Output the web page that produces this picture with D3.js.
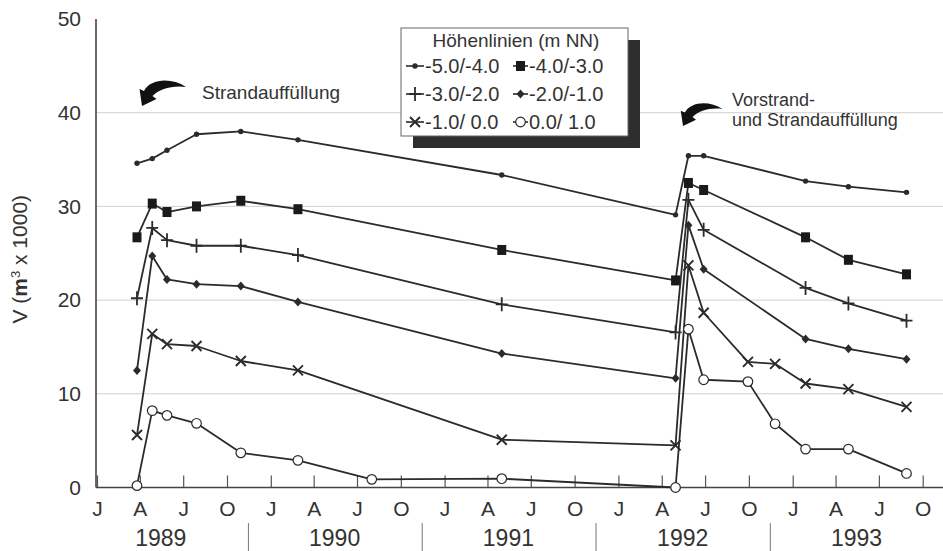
<!DOCTYPE html>
<html>
<head>
<meta charset="utf-8">
<script src="https://cdn.jsdelivr.net/npm/d3@7"></script>
<style>
  html, body { margin: 0; padding: 0; background: #fff; }
  svg { display: block; font-family: "Liberation Sans", Arial, Helvetica, sans-serif; }
</style>
</head>
<body>
<svg id="chart" width="943" height="551"></svg>
<script>
// ---------- data ----------
const dates = ["1989-03-26","1989-04-27","1989-05-28","1989-07-29","1989-10-30","1990-02-27",
               "1990-08-01","1991-05-01","1992-04-30","1992-05-27","1992-06-28","1992-09-29",
               "1992-11-25","1993-01-28","1993-04-28","1993-08-28"];
const s1 = [34.6, 35.1, 36.0, 37.7, 38.0, 37.1, null, 33.35, 29.1, 35.4, 35.4, null, null, 32.7, 32.1, 31.5];
const s2 = [26.7, 30.3, 29.4, 30.0, 30.6, 29.7, null, 25.35, 22.1, 32.5, 31.75, null, null, 26.7, 24.3, 22.75];
const s3 = [20.2, 27.7, 26.4, 25.8, 25.8, 24.8, null, 19.55, 16.55, 30.7, 27.5, null, null, 21.3, 19.65, 17.8];
const s4 = [12.5, 24.7, 22.2, 21.7, 21.5, 19.8, null, 14.3, 11.65, 28.0, 23.3, null, null, 15.85, 14.8, 13.7];
const s5 = [5.6, 16.4, 15.3, 15.1, 13.5, 12.5, null, 5.1, 4.5, 23.7, 18.65, 13.4, 13.2, 11.1, 10.5, 8.6];
const s6 = [0.2, 8.2, 7.7, 6.85, 3.7, 2.9, 0.87, 0.94, 0.0, 16.9, 11.5, 11.3, 6.8, 4.1, 4.1, 1.5];
const seriesNames = ["-5.0/-4.0", "-4.0/-3.0", "-3.0/-2.0", "-2.0/-1.0", "-1.0/ 0.0", "0.0/ 1.0"];
const seriesMarkers = ["dot", "square", "plus", "diamond", "cross", "circle"];
const yTicks = [0, 10, 20, 30, 40, 50];
const monthLabels = ["J", "A", "J", "O"];
const years = [1989, 1990, 1991, 1992, 1993];
const legendTitle = "Höhenlinien (m NN)";
const note1 = ["Strandauffüllung"];
const note2 = ["Vorstrand-", "und Strandauffüllung"];

// ---------- setup ----------
const parse = d3.timeParse("%Y-%m-%d");
const svg = d3.select("#chart");
const ink = "#2b2b2b";
const txt = "#333";

const x = d3.scaleTime()
  .domain([new Date(1989, 0, 1), new Date(1993, 9, 1)])
  .range([97, 922.7]);
const y = d3.scaleLinear().domain([0, 50]).range([487.5, 19]);

// gridlines
svg.append("g").selectAll("line")
  .data(yTicks.filter(v => v > 0 && v < 50))
  .join("line")
  .attr("x1", 96).attr("x2", 943)
  .attr("y1", d => y(d)).attr("y2", d => y(d))
  .attr("stroke", "#cfcfcf").attr("stroke-width", 1);

// y axis
const yAxis = svg.append("g").attr("transform", "translate(96,0)")
  .call(d3.axisLeft(y).tickValues(yTicks).tickSize(0).tickPadding(15).tickFormat(d3.format("d")));
yAxis.select(".domain").remove();
yAxis.selectAll("text").attr("font-size", 21).attr("fill", txt)
  .attr("font-family", "Liberation Sans, Arial, sans-serif");
svg.append("line").attr("x1", 96).attr("x2", 96).attr("y1", y(50)).attr("y2", y(0))
  .attr("stroke", "#444").attr("stroke-width", 1.6);

// y title
const yt = svg.append("text")
  .attr("transform", `translate(27,${(y(0) + y(50)) / 2 + 6}) rotate(-90)`)
  .attr("text-anchor", "middle").attr("font-size", 21).attr("fill", txt);
yt.append("tspan").text("V (");
yt.append("tspan").attr("font-weight", "bold").text("m");
yt.append("tspan").attr("font-size", 13).attr("dy", -7).text("3");
yt.append("tspan").attr("dy", 7).text(" x 1000)");

// x axis
const quarterTicks = d3.timeMonth.every(3).range(new Date(1989, 0, 1), new Date(1993, 9, 2));
const xAxis = svg.append("g").attr("transform", `translate(0,${y(0)})`)
  .call(d3.axisBottom(x).tickValues(quarterTicks).tickSizeInner(-12).tickSizeOuter(0)
    .tickFormat(d => monthLabels[Math.floor(d.getMonth() / 3)]));
xAxis.select(".domain").remove();
xAxis.selectAll(".tick line").attr("stroke", "#555").attr("stroke-width", 1.2);
xAxis.selectAll(".tick text").attr("y", 28.5).attr("dy", 0).attr("font-size", 21)
  .attr("fill", txt).attr("font-family", "Liberation Sans, Arial, sans-serif");
svg.append("line").attr("x1", 96).attr("x2", 943).attr("y1", y(0)).attr("y2", y(0))
  .attr("stroke", "#444").attr("stroke-width", 1.6);

// years
svg.append("g").selectAll("text").data(years).join("text")
  .attr("x", d => x(new Date(d, 4, 15))).attr("y", 546)
  .attr("text-anchor", "middle").attr("font-size", 23).attr("fill", txt)
  .text(d => d);
svg.append("g").selectAll("line").data(years.slice(0, -1)).join("line")
  .attr("x1", d => x(new Date(d, 10, 15))).attr("x2", d => x(new Date(d, 10, 15)))
  .attr("y1", 523).attr("y2", 551).attr("stroke", "#777").attr("stroke-width", 1);

// ---------- markers ----------
function drawMarker(g, type, cx, cy) {
  if (type === "dot") {
    g.append("circle").attr("cx", cx).attr("cy", cy).attr("r", 2.7).attr("fill", ink);
  } else if (type === "square") {
    g.append("rect").attr("x", cx - 4.5).attr("y", cy - 5).attr("width", 9).attr("height", 10).attr("fill", "#1a1a1a");
  } else if (type === "plus") {
    g.append("path").attr("d", `M${cx - 6},${cy}H${cx + 6}M${cx},${cy - 7}V${cy + 7}`)
      .attr("stroke", ink).attr("stroke-width", 1.8).attr("fill", "none");
  } else if (type === "diamond") {
    g.append("path").attr("d", `M${cx},${cy - 4.5}L${cx + 4},${cy}L${cx},${cy + 4.5}L${cx - 4},${cy}Z`).attr("fill", ink);
  } else if (type === "cross") {
    g.append("path").attr("d", `M${cx - 5},${cy - 5}L${cx + 5},${cy + 5}M${cx - 5},${cy + 5}L${cx + 5},${cy - 5}`)
      .attr("stroke", ink).attr("stroke-width", 1.9).attr("fill", "none");
  } else if (type === "circle") {
    g.append("circle").attr("cx", cx).attr("cy", cy).attr("r", 4.8)
      .attr("fill", "#fff").attr("stroke", ink).attr("stroke-width", 1.2);
  }
}

// ---------- series ----------
const allSeries = [s1, s2, s3, s4, s5, s6];
const line = d3.line().x(d => x(d.date)).y(d => y(d.v));
allSeries.forEach((vals, i) => {
  const pts = vals.map((v, j) => ({ date: parse(dates[j]), v })).filter(d => d.v !== null);
  const g = svg.append("g");
  g.append("path").datum(pts).attr("d", line)
    .attr("fill", "none").attr("stroke", ink).attr("stroke-width", 1.8).attr("stroke-linejoin", "round");
  pts.forEach(p => drawMarker(g, seriesMarkers[i], x(p.date), y(p.v)));
});

// ---------- annotations ----------
const arrowPath = "M44,-19 C29,-29 8,-27 2,-15 L-2.5,-17 L0,0 L14.5,-7 L10.5,-10 C17,-17 31,-21 44,-19 Z";
svg.append("path").attr("d", arrowPath).attr("fill", "#111")
  .attr("transform", "translate(142,106)");
svg.append("path").attr("d", arrowPath).attr("fill", "#111")
  .attr("transform", "translate(683,126) scale(0.9)");
svg.append("text").attr("x", 202).attr("y", 98.5).attr("font-size", 19).attr("fill", txt).text(note1[0]);
svg.selectAll(".n2").data(note2).join("text").attr("class", "n2")
  .attr("x", 732).attr("y", (d, i) => 106 + i * 19.5).attr("font-size", 18).attr("fill", txt).text(d => d);

// ---------- legend ----------
const lg = svg.append("g");
lg.append("rect").attr("x", 413).attr("y", 40).attr("width", 227).attr("height", 108).attr("fill", "#2e2e2e");
lg.append("rect").attr("x", 401).attr("y", 28).attr("width", 227).attr("height", 108)
  .attr("fill", "#fff").attr("stroke", "#666").attr("stroke-width", 1);
lg.append("text").attr("x", 516).attr("y", 46.5).attr("text-anchor", "middle")
  .attr("font-size", 19).attr("fill", txt).text(legendTitle);
seriesNames.forEach((name, i) => {
  const col = i % 2, row = Math.floor(i / 2);
  const lx0 = col === 0 ? 406 : 513;
  const lx1 = col === 0 ? 424 : 528;
  const by = 73 + row * 28;
  const cy = by - 7;
  lg.append("line").attr("x1", lx0).attr("x2", lx1).attr("y1", cy).attr("y2", cy)
    .attr("stroke", ink).attr("stroke-width", 1.6);
  drawMarker(lg, seriesMarkers[i], (lx0 + lx1) / 2, cy);
  lg.append("text").attr("x", lx1 + 1).attr("y", by).attr("font-size", 20).attr("fill", txt).text(name);
});
</script>
</body>
</html>
